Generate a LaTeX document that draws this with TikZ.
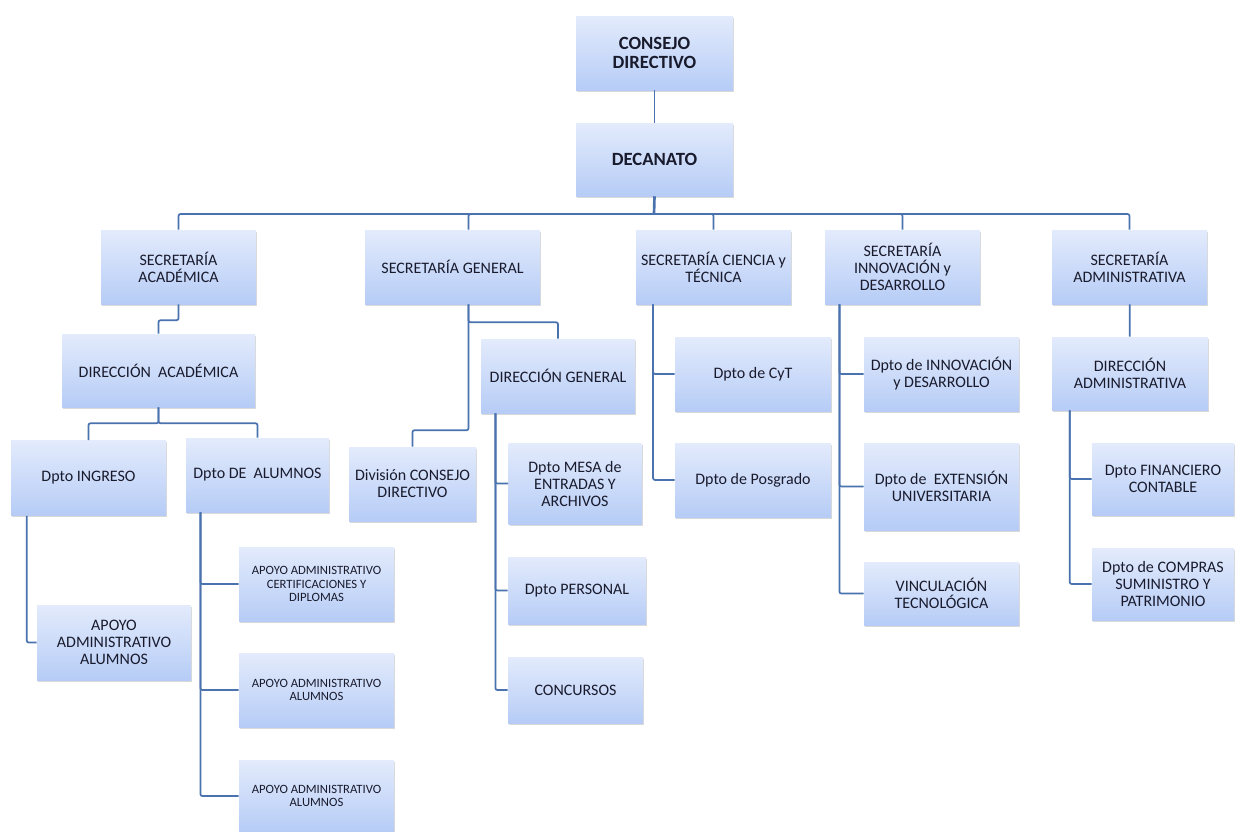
\documentclass[tikz,border=0pt]{standalone}
\usepackage{fontspec}
\setmainfont{Carlito}
\usepackage{tikz}
\usetikzlibrary{shadows, positioning}
\definecolor{boxTop}{RGB}{227,235,252}
\definecolor{boxBottom}{RGB}{182,204,246}
\definecolor{linkBlue}{RGB}{74,114,174}
\definecolor{textDark}{RGB}{25,27,45}
\tikzset{
	orgBox/.style={top color=boxTop, bottom color=boxBottom, draw=none, align=center, inner sep=1pt,
	text=textDark, font=\fontsize{12}{12.75}\selectfont, minimum width=116.25pt, minimum height=55.5pt,
	drop shadow={opacity=0.3, shadow xshift=0.8pt, shadow yshift=-1.2pt}}
}
\tikzset{
	orgBoxBold/.style={orgBox, font=\bfseries\fontsize{14}{14.5}\selectfont}
}
\tikzset{
	orgBoxSmall/.style={orgBox, font=\fontsize{9.5}{10.25}\selectfont}
}
\tikzset{
	orgLine/.style={draw=linkBlue, line width=1.3pt, rounded corners=1.5pt}
}

\begin{document}
\begin{tikzpicture}[x=0.75pt, y=-0.75pt]

		\useasboundingbox (0,0) rectangle (1236,832);

		% consejo and decanato
		\node[orgBoxBold, minimum width=117.75pt] (consejo) at (654.5,53) {CONSEJO\\DIRECTIVO};
		\node[orgBoxBold, minimum width=117.75pt, minimum height=54.75pt] (decanato) at (654.5,159.5) {DECANATO};

		% secretarias
		\node[orgBox] (secAcad) at (178.5,267) {SECRETARÍA\\ACADÉMICA};
		\node[orgBox, minimum width=131.25pt] (secGen) at (452.5,267) {SECRETARÍA GENERAL};
		\node[orgBox] (secCyt) at (713.5,267) {SECRETARÍA CIENCIA y\\TÉCNICA};
		\node[orgBox] (secInn) at (902.5,267) {SECRETARÍA\\INNOVACIÓN y\\DESARROLLO};
		\node[orgBox] (secAdm) at (1129.5,267) {SECRETARÍA\\ADMINISTRATIVA};

		% academica
		\node[orgBox, minimum width=144.75pt, minimum height=54.75pt] (dirAcad) at (158.5,370.5) {DIRECCIÓN\ \ ACADÉMICA};
		\node[orgBox, minimum height=56.25pt] (dptoIngreso) at (88.5,478) {Dpto INGRESO};
		\node[orgBox, minimum width=107.25pt] (dptoAlumnos) at (257.5,475) {Dpto DE\ \ ALUMNOS};
		\node[orgBox, minimum width=115.5pt, minimum height=56.25pt] (apoyoAlumnos) at (114,642.5) {APOYO\\ADMINISTRATIVO\\ALUMNOS};
		\node[orgBoxSmall] (apoyoCert) at (316.5,584) {APOYO ADMINISTRATIVO\\CERTIFICACIONES Y\\DIPLOMAS};
		\node[orgBoxSmall] (apoyoAluA) at (316.5,690) {APOYO ADMINISTRATIVO\\ALUMNOS};
		\node[orgBoxSmall, minimum height=53.25pt] (apoyoAluB) at (316.5,796) {APOYO ADMINISTRATIVO\\ALUMNOS};

		% general
		\node[orgBox, minimum width=95.25pt] (divConsejo) at (412.5,484) {División CONSEJO\\DIRECTIVO};
		\node[orgBox, minimum width=115.5pt] (dirGen) at (558,376) {DIRECCIÓN GENERAL};
		\node[orgBox, minimum width=99.75pt, minimum height=60.75pt] (dptoMesa) at (575,483.5) {Dpto MESA de\\ENTRADAS Y\\ARCHIVOS};
		\node[orgBox, minimum width=103.5pt, minimum height=50.25pt] (dptoPersonal) at (577,590.5) {Dpto PERSONAL};
		\node[orgBox, minimum width=101.25pt, minimum height=49.5pt] (concursos) at (575.5,690) {CONCURSOS};

		% ciencia y tecnica
		\node[orgBox, minimum width=117pt] (dptoCyt) at (753,374) {Dpto de CyT};
		\node[orgBox, minimum width=117pt] (dptoPosgrado) at (753,480) {Dpto de Posgrado};

		% innovacion
		\node[orgBox] (dptoInnov) at (941.5,374) {Dpto de INNOVACIÓN\\y DESARROLLO};
		\node[orgBox, minimum height=65.25pt] (dptoExt) at (941.5,486.5) {Dpto de\ \ EXTENSIÓN\\UNIVERSITARIA};
		\node[orgBox, minimum height=47.25pt] (vinculacion) at (941.5,593.5) {VINCULACIÓN\\TECNOLÓGICA};

		% administrativa
		\node[orgBox, minimum width=117pt, minimum height=54.75pt] (dirAdm) at (1130,373.5) {DIRECCIÓN\\ADMINISTRATIVA};
		\node[orgBox, minimum width=106.5pt, minimum height=54pt] (dptoFin) at (1163,479) {Dpto FINANCIERO\\CONTABLE};
		\node[orgBox, minimum width=106.5pt, minimum height=54pt] (dptoCompras) at (1163,584) {Dpto de COMPRAS\\SUMINISTRO Y\\PATRIMONIO};

		% lines from the top
		\draw[orgLine] (consejo) -- (decanato);
		\coordinate (bus) at (654,214);
		\draw[orgLine, line width=2pt] (decanato.south) -- (bus);
		\foreach \sec in {secAcad, secCyt, secInn, secAdm}
			\draw[orgLine] (bus) -| (\sec.north);
		\draw[orgLine] (bus) -| ([xshift=12pt]secGen.north);

		% academica lines
		\draw[orgLine] (secAcad.south) -- ++(0,16) -| (dirAcad.north);
		\draw[orgLine] (dirAcad.south) -- ++(0,16) -| (dptoIngreso.north);
		\draw[orgLine] (dirAcad.south) -- ++(0,16) -| (dptoAlumnos.north);
		\draw[orgLine] ([xshift=12pt]dptoIngreso.south west) |- (apoyoAlumnos.west);
		\foreach \n in {apoyoCert, apoyoAluA, apoyoAluB}
			\draw[orgLine] ([xshift=11pt]dptoAlumnos.south west) |- (\n.west);

		% general lines
		\draw[orgLine] ([xshift=12pt]secGen.south) -- ++(0,18) -| (dirGen.north);
		\draw[orgLine] ([xshift=12pt]secGen.south) -- ++(0,126) -| (divConsejo.north);
		\foreach \n in {dptoMesa, dptoPersonal, concursos}
			\draw[orgLine] ([xshift=11pt]dirGen.south west) |- (\n.west);

		% ciencia y tecnica, innovacion lines
		\foreach \n in {dptoCyt, dptoPosgrado}
			\draw[orgLine] ([xshift=13pt]secCyt.south west) |- (\n.west);
		\foreach \n in {dptoInnov, dptoExt, vinculacion}
			\draw[orgLine] ([xshift=11pt]secInn.south west) |- (\n.west);

		% administrativa lines
		\draw[orgLine] (secAdm) -- (dirAdm);
		\foreach \n in {dptoFin, dptoCompras}
			\draw[orgLine] ([xshift=13.5pt]dirAdm.south west) |- (\n.west);

\end{tikzpicture}
\end{document}
